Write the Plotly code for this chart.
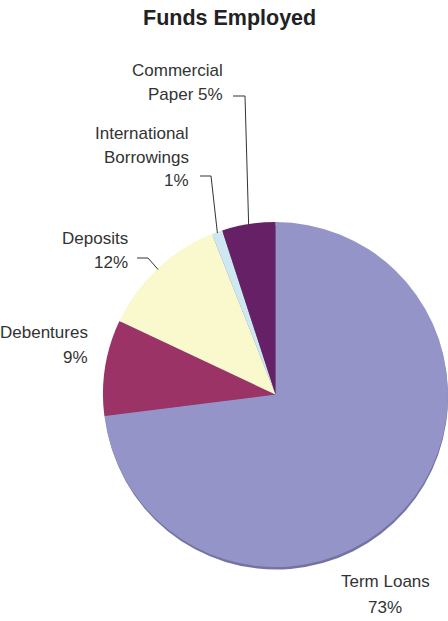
import math
import plotly.graph_objects as go

# Funds employed by source (%)
categories = ["Term Loans", "Debentures", "Deposits", "International Borrowings", "Commercial Paper"]
shares = [73, 9, 12, 1, 5]
label_lines = [
    ["Term Loans", "73%"],
    ["Debentures", "9%"],
    ["Deposits", "12%"],
    ["International", "Borrowings", "1%"],
    ["Commercial", "Paper 5%"],
]
colors = ["#9494C8", "#9B3366", "#FAF8CD", "#CDE8F0", "#662066"]

W, H = 448, 621
FONT = "Liberation Sans, Arial, sans-serif"
TEXT = "#333333"


def px(x):
    return x / W


def py(y):
    return 1 - y / H


# pie geometry in pixels
LEFT, CY, R = 103, 394.5, 172.5
CX = LEFT + R


def domain(left, cy, r):
    return dict(x=[px(left), min(1.0, px(left + 2 * r))],
                y=[py(cy + r), py(cy - r)])


fig = go.Figure()

# drop shadow under the pie
fig.add_trace(go.Pie(
    values=shares, labels=categories, sort=False, direction="clockwise",
    marker=dict(colors=["#7474A2"] * len(shares), line=dict(width=0)),
    textinfo="none", hoverinfo="skip", showlegend=False,
    domain=domain(LEFT + 1, CY + 3, R - 0.5),
))

fig.add_trace(go.Pie(
    values=shares, labels=categories, sort=False, direction="clockwise",
    marker=dict(colors=colors, line=dict(width=0)),
    textinfo="none", showlegend=False,
    domain=domain(LEFT, CY, R),
))

# label placement: (x, y of each line, anchor, elbow)
label_pos = [
    dict(x=385, ys=[581.5, 607], xanchor="center", elbow=None),
    dict(x=90, ys=[332.5, 357.5], xanchor="right", elbow=None),
    dict(x=130, ys=[238.5, 262.5], xanchor="right", elbow=[(137, 258), (148, 258)]),
    dict(x=191, ys=[133.5, 157.5, 180.5], xanchor="right", elbow=[(200, 176), (211, 176)]),
    dict(x=225, ys=[71, 94.5], xanchor="right", elbow=[(233, 96), (245, 96)]),
]

annotations = [dict(
    text="<b>Funds Employed</b>", x=px(229), y=py(18), xref="paper", yref="paper",
    xanchor="center", yanchor="middle", showarrow=False,
    font=dict(family=FONT, size=21.5, color="#222222"),
)]
shapes = []

total = sum(shares)
cum = 0
for lines, pos, v in zip(label_lines, label_pos, shares):
    mid = (cum + v / 2) / total * 2 * math.pi
    cum += v
    for t, y in zip(lines, pos["ys"]):
        annotations.append(dict(
            text=t, x=px(pos["x"]), y=py(y), xref="paper", yref="paper",
            xanchor=pos["xanchor"], yanchor="middle", showarrow=False,
            font=dict(family=FONT, size=17, color=TEXT),
        ))
    if pos["elbow"]:
        ax = CX + (R - 1) * math.sin(mid)
        ay = CY - (R - 1) * math.cos(mid)
        pts = pos["elbow"] + [(ax, ay)]
        for (x0, y0), (x1, y1) in zip(pts[:-1], pts[1:]):
            shapes.append(dict(
                type="line", xref="paper", yref="paper",
                x0=px(x0), y0=py(y0), x1=px(x1), y1=py(y1),
                line=dict(color="#333333", width=1),
            ))

fig.update_layout(
    width=W, height=H,
    margin=dict(l=0, r=0, t=0, b=0),
    paper_bgcolor="white", plot_bgcolor="white",
    annotations=annotations, shapes=shapes,
)

fig.write_html("out.html")
